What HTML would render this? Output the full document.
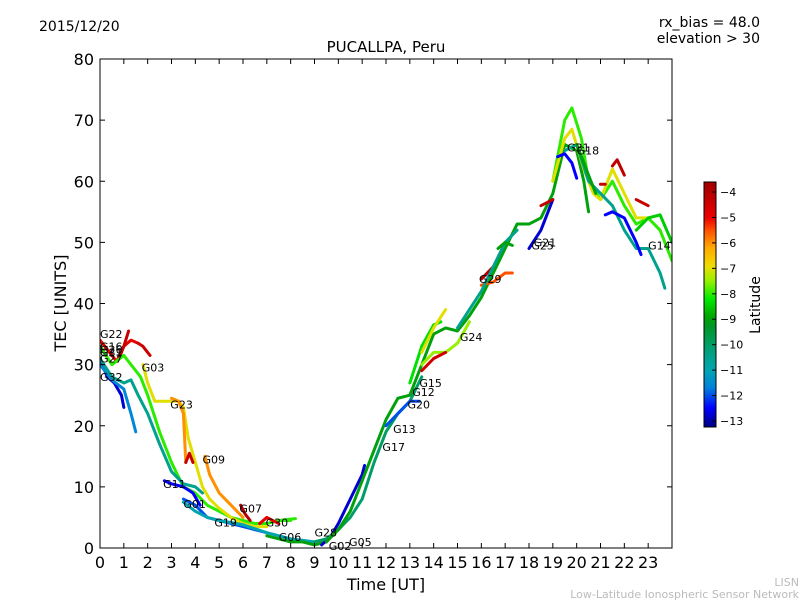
<!DOCTYPE html>
<html><head><meta charset="utf-8"><style>
body{margin:0;background:#fff;}
svg{display:block;font-family:"DejaVu Sans","Liberation Sans",sans-serif;}
</style></head><body>
<svg id="chart" width="800" height="600" viewBox="0 0 800 600">
<defs><linearGradient id="jet" x1="0" y1="1" x2="0" y2="0"></linearGradient>
<clipPath id="pc"><rect x="100" y="59" width="572" height="489"/></clipPath></defs>
<text x="39" y="31" font-size="14">2015/12/20</text>
<text x="760" y="27" font-size="14" text-anchor="end">rx_bias = 48.0</text>
<text x="760" y="43" font-size="14" text-anchor="end">elevation &gt; 30</text>
<text x="386" y="52" font-size="15" text-anchor="middle">PUCALLPA, Peru</text>
<g id="tracks" clip-path="url(#pc)"></g>
<g id="labels"></g>
<rect x="100" y="59" width="572" height="489" fill="none" stroke="#000" stroke-width="1"/>
<g id="axes"></g>
<text x="386" y="590" font-size="16" text-anchor="middle">Time [UT]</text>
<text transform="translate(66,303) rotate(-90)" font-size="16" text-anchor="middle">TEC [UNITS]</text>
<rect x="704" y="182" width="12" height="245" fill="url(#jet)" stroke="#000" stroke-width="1"/>
<g id="cbticks"></g>
<text transform="translate(760,305) rotate(-90)" font-size="14" text-anchor="middle">Latitude</text>
<text x="799" y="586" font-size="11" fill="#bbb" text-anchor="end">LISN</text>
<text x="799" y="598" font-size="11" fill="#bbb" text-anchor="end">Low-Latitude Ionospheric Sensor Network</text>
</svg>
<script>
const xTicks=[0,1,2,3,4,5,6,7,8,9,10,11,12,13,14,15,16,17,18,19,20,21,22,23];
const yTicks=[0,10,20,30,40,50,60,70,80];
const cbTicks=[-4,-5,-6,-7,-8,-9,-10,-11,-12,-13];
const trackLats=[-5,-4.3,-4.4,-12.8,-11.6,-8,-10.5,-7,-6,-4.3,-6,-12.5,-12,-11,-4,-5,-8,-9,-12.8,-10,-9,-8.3,-7.5,-7,-12,-4.5,-4,-5.5,-10.5,-12.8,-4.3,-8,-7,-12.5,-10.5,-9,-4.2,-4.3,-4.3,-12.5,-8.5,-9];
const trackPts=[
[[0,34],[0.4,32],[0.7,30.5],[1,33],[1.3,34],[1.6,33.5]],
[[0.8,31],[1,33],[1.2,35.5]],
[[1.6,33.5],[1.8,33],[2,32],[2.1,31.5]],
[[0,31],[0.3,28],[0.6,27],[0.9,25],[1,23]],
[[0,30],[0.5,27.5],[1,26],[1.3,22],[1.5,19]],
[[0,33],[0.5,30],[1,31.5],[1.3,30],[1.7,28],[2,25],[2.5,19],[3,14],[3.5,10],[4,9],[4.5,7],[5,6],[5.5,5],[6,4.5],[6.5,4],[7,4],[7.5,4.5],[8,4.5]],
[[0,31],[0.5,28],[1,27],[1.3,27.5],[1.6,25],[2,22],[2.5,17],[3,12.5],[3.5,10.5],[4,10],[4.3,9]],
[[1.8,30],[2,27],[2.3,24],[3,24],[3.3,24],[3.5,23],[3.7,18],[4,14],[4.3,10],[4.6,8],[5,6.5],[5.5,5],[6,4],[6.5,3.5],[7,3.5]],
[[3,24.5],[3.3,24],[3.5,22],[3.6,14]],
[[3.6,14],[3.75,15.5],[3.9,14]],
[[4.4,15],[4.6,12],[5,9],[5.5,7],[6,5]],
[[2.7,11],[3,10.5],[3.5,10],[3.9,9],[4.2,7]],
[[3.5,8],[4,7],[4.5,5],[5,4.5],[5.5,4],[6,3.5],[6.5,3],[7,2.5]],
[[3.5,7.5],[4,6],[4.5,5],[5,4.5],[6,3.8],[7,2.5],[8,1.5],[9,1]],
[[5.9,7],[6.1,5.5],[6.3,4.5]],
[[6.7,4],[7,5],[7.5,4]],
[[7.5,4.5],[8.2,4.8]],
[[7,2],[7.5,1.5],[8,1],[8.5,1],[9,0.5],[9.5,1]],
[[9.3,0.5],[9.7,2],[10,4],[10.5,8],[11,12],[11.1,13.5]],
[[9,1],[9.5,1.5],[10,3],[10.5,5],[11,8],[11.5,14],[12,19],[12.5,22],[13,24],[13.5,28]],
[[9.5,1],[10,3],[10.5,6],[11,11],[11.5,16],[12,21],[12.5,24.5],[13,25],[13.5,30],[14,35],[14.5,36],[15,35.5],[15.5,38],[16,41],[16.5,45],[17,49],[17.5,53],[18,53],[18.5,54],[19,58],[19.5,66],[20,65],[20.3,60],[20.5,55]],
[[13,27],[13.5,33],[14,36.5],[14.3,37]],
[[13.5,30],[14,32],[14.5,32],[15,33.5],[15.5,37]],
[[13.5,32],[14,36],[14.5,39]],
[[12,20],[12.5,22],[13,24],[13.4,24]],
[[13.5,29],[14,31],[14.5,32]],
[[16,44],[16.5,46]],
[[16,43],[16.5,43.5],[17,45],[17.3,45]],
[[15,36],[15.5,39],[16,42],[16.5,46],[17,50],[17.5,52]],
[[18,49],[18.5,52],[19,57]],
[[18.5,56],[19,57]],
[[19,60],[19.5,70],[19.8,72],[20.2,67],[20.5,60],[21,57],[21.5,60],[22,56],[22.5,53],[23,54],[23.5,52],[24,47]],
[[19,60],[19.5,67],[19.8,68.5],[20.3,62],[20.7,58],[21,57],[21.5,62],[22,58],[22.5,54],[23,54]],
[[19.2,64],[19.5,64.5],[19.8,63],[20,60.5]],
[[19.5,65],[20,66],[20.5,60],[21,58],[21.5,56],[22,52],[22.5,49],[23,49],[23.5,45],[23.7,42.5]],
[[20,66],[20.5,61],[20.8,58]],
[[21.5,62.5],[21.7,63.5],[22,61]],
[[22.5,57],[23,56]],
[[21,59.5],[21.2,59.5]],
[[21.2,54.5],[21.5,55],[22,54],[22.5,50],[22.7,48]],
[[22.5,52],[23,54],[23.5,54.5],[24,50]],
[[16.7,49],[17,50],[17.3,49.5]]
];
const prnNames=["G22","G16","G26","G31","G27","G32","G03","G23","G09","G11","G01","G19","G07","G30","G06","G28","G02","G05","G17","G13","G20","G12","G15","G24","G29","G25","G21","G31","G18","G14"];
const prnT=[0,0,0,0,0,0,1.75,2.95,4.3,2.65,3.5,4.8,5.85,6.95,7.5,9,9.6,10.45,11.85,12.3,12.9,13.1,13.4,15.1,15.9,18.1,18.2,19.6,20,23];
const prnV=[35,33,32.5,32,31,28,29.5,23.5,14.5,10.5,7.2,4.2,6.5,4.2,1.8,2.5,0.3,1,16.5,19.5,23.5,25.5,27,34.5,44,49.5,50,65.5,65,49.5];
const X=t=>100+t*572/24, Y=v=>548-v*489/80, CY=l=>192+(-4-l)*(421-192)/9;
const cmap=[[-13.3,[0,0,130]],[-12.5,[0,0,255]],[-11.7,[0,130,220]],[-11,[0,165,175]],[-10.2,[0,160,120]],[-9.3,[0,150,40]],[-8.9,[0,165,0]],[-8.2,[0,235,0]],[-7.5,[150,240,0]],[-6.9,[240,220,0]],[-6.2,[255,170,0]],[-5.5,[255,80,0]],[-5,[235,0,0]],[-3.6,[160,0,0]]];
function jet(l){
 if(l<=cmap[0][0])return `rgb(${cmap[0][1]})`;
 for(let i=1;i<cmap.length;i++){if(l<=cmap[i][0]){const a=cmap[i-1],b=cmap[i],f=(l-a[0])/(b[0]-a[0]);
  return 'rgb('+a[1].map((v,k)=>Math.round(v+(b[1][k]-v)*f)).join(',')+')';}}
 return `rgb(${cmap[cmap.length-1][1]})`;}
const NS="http://www.w3.org/2000/svg";
function mk(tag,a,p){const e=document.createElementNS(NS,tag);for(const k in a)e.setAttribute(k,a[k]);p.appendChild(e);return e;}
const grad=document.getElementById('jet');
cmap.forEach(s=>{const off=Math.max(0,Math.min(1,(s[0]+13.25)/9.65));mk('stop',{offset:off,'stop-color':`rgb(${s[1]})`},grad);});
const tg=document.getElementById('tracks');
trackPts.forEach((pts,i)=>{
 const e=mk('polyline',{points:pts.map(p=>X(p[0])+','+Y(p[1])).join(' '),fill:'none',stroke:jet(trackLats[i]),'stroke-width':3,'stroke-linejoin':'round','stroke-linecap':'round'},tg);
 
 
});
const lg=document.getElementById('labels');
prnNames.forEach((n,i)=>{
 const e=mk('text',{x:X(prnT[i]),y:Y(prnV[i])+4,'font-size':11},lg);e.textContent=n;
 
 
});
const ag=document.getElementById('axes');
xTicks.forEach(t=>{
 mk('line',{x1:X(t),x2:X(t),y1:548,y2:543,stroke:'#000'},ag);mk('line',{x1:X(t),x2:X(t),y1:59,y2:64,stroke:'#000'},ag);
 const e=mk('text',{x:X(t),y:568,'font-size':16,'text-anchor':'middle'},ag);e.textContent=t;
 
 
});
yTicks.forEach(v=>{
 mk('line',{x1:100,x2:105,y1:Y(v),y2:Y(v),stroke:'#000'},ag);mk('line',{x1:667,x2:672,y1:Y(v),y2:Y(v),stroke:'#000'},ag);
 const e=mk('text',{x:94,y:Y(v)+6,'font-size':16,'text-anchor':'end'},ag);e.textContent=v;
 
 
});
const cg=document.getElementById('cbticks');
cbTicks.forEach(l=>{
 mk('line',{x1:712,x2:716,y1:CY(l),y2:CY(l),stroke:'#000'},cg);
 const e=mk('text',{x:720,y:CY(l)+4,'font-size':11},cg);e.textContent='\u2212'+(-l);
 
 
});
</script>
</body></html>
